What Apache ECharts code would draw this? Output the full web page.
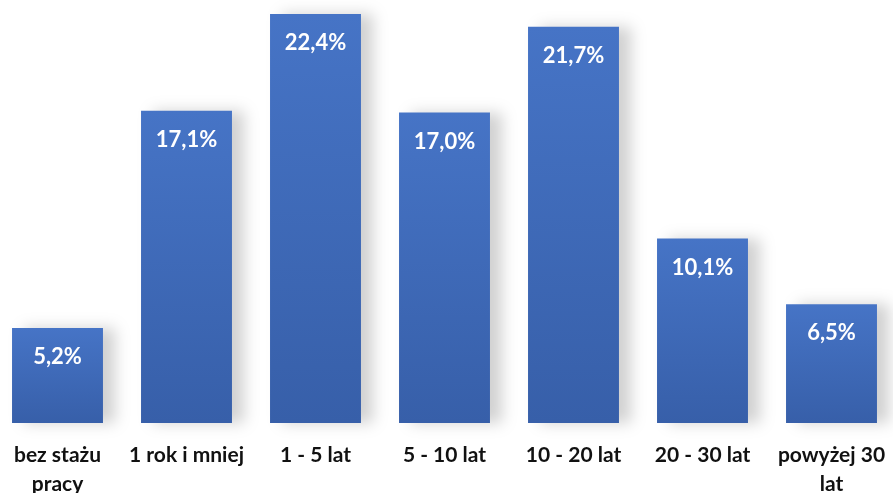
<!DOCTYPE html>
<html><head><meta charset="utf-8">
<script src="https://cdn.jsdelivr.net/npm/echarts@6/dist/echarts.min.js"></script>
<style>html,body{margin:0;padding:0;background:#fff}#c{width:893px;height:493px}</style>
</head><body><div id="c"></div>
<script>
const categories = ['bez stażu\npracy', '1 rok i mniej', '1 - 5 lat', '5 - 10 lat', '10 - 20 lat', '20 - 30 lat', 'powyżej 30\nlat'];
const values = [5.2, 17.1, 22.4, 17.0, 21.7, 10.1, 6.5];

const chart = echarts.init(document.getElementById('c'));
chart.setOption({
  animation: false,
  grid: { left: -7, right: -3, top: 3, bottom: 70, containLabel: false, outerBoundsMode: 'none' },
  xAxis: {
    type: 'category', data: categories,
    axisLine: { show: false }, axisTick: { show: false },
    axisLabel: { interval: 0, margin: 18, color: '#111111', fontFamily: 'Lato', fontWeight: 'bold', fontSize: 21, lineHeight: 29 }
  },
  yAxis: { type: 'value', min: 0, max: 23, show: false, splitLine: { show: false } },
  series: [{
    type: 'bar', data: values, barCategoryGap: '29.5%',
    itemStyle: {
      color: new echarts.graphic.LinearGradient(0, 0, 0, 1, [
        { offset: 0, color: '#4674c6' }, { offset: 1, color: '#375fa9' }
      ]),
      shadowColor: 'rgba(0,0,0,0.18)', shadowBlur: 14, shadowOffsetX: 12, shadowOffsetY: 0
    },
    label: {
      show: true, position: 'insideTop', distance: 18, color: '#ffffff',
      fontFamily: 'Lato', fontWeight: 'bold', fontSize: 22,
      formatter: p => p.value.toFixed(1).replace('.', ',') + '%'
    }
  }]
});
</script></body></html>
